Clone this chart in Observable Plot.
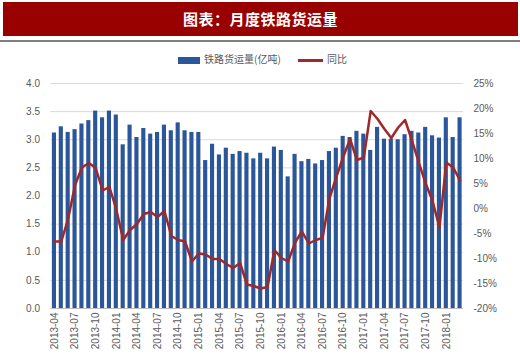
<!DOCTYPE html>
<html>
<head>
<meta charset="utf-8">
<script src="https://cdn.jsdelivr.net/npm/d3@7"></script>
<script src="https://cdn.jsdelivr.net/npm/@observablehq/plot@0.6"></script>
<style>
  html, body { margin: 0; padding: 0; background: #fff; }
  #wrap { position: relative; width: 520px; height: 354px; overflow: hidden; }
  #banner { position: absolute; left: 3px; top: 2px; width: 515px; height: 34px; background: #990000;
    color: #fff; font-family: "Noto Sans CJK SC", sans-serif; font-weight: bold; font-size: 15px;
    line-height: 34px; text-align: center; letter-spacing: 0.5px; }
  #rule { position: absolute; left: 0; top: 40px; width: 520px; height: 2px; background: #7f7f7f; }
  #legend { position: absolute; top: 53px; left: 0; width: 520px; height: 14px;
    font-family: "Noto Sans CJK SC", sans-serif; font-size: 10px; color: #595959; }
  .sw { position: absolute; }
  .lt { position: absolute; top: -1px; line-height: 14px; }
  #chart { position: absolute; left: 0; top: 70px; }
</style>
</head>
<body>
<div id="wrap">
  <div id="banner">图表：月度铁路货运量</div>
  <div id="rule"></div>
  <div id="legend">
    <div class="sw" style="left:178px;top:4px;width:22px;height:7px;background:#2b579a;"></div>
    <div class="lt" style="left:204px;">铁路货运量(亿吨)</div>
    <div class="sw" style="left:298px;top:6px;width:25px;height:3px;background:#a0282a;"></div>
    <div class="lt" style="left:327px;">同比</div>
  </div>
  <div id="chart"></div>
</div>
<script>
const months = ["2013-04","2013-05","2013-06","2013-07","2013-08","2013-09","2013-10","2013-11","2013-12",
  "2014-01","2014-02","2014-03","2014-04","2014-05","2014-06","2014-07","2014-08","2014-09","2014-10","2014-11","2014-12",
  "2015-01","2015-02","2015-03","2015-04","2015-05","2015-06","2015-07","2015-08","2015-09","2015-10","2015-11","2015-12",
  "2016-01","2016-02","2016-03","2016-04","2016-05","2016-06","2016-07","2016-08","2016-09","2016-10","2016-11","2016-12",
  "2017-01","2017-02","2017-03","2017-04","2017-05","2017-06","2017-07","2017-08","2017-09","2017-10","2017-11","2017-12",
  "2018-01","2018-02","2018-03"];

const freight = [3.12,3.23,3.13,3.18,3.28,3.34,3.51,3.39,3.51,3.44,
  2.91,3.26,3.04,3.20,3.10,3.13,3.26,3.16,3.30,3.16,
  3.13,3.13,2.63,2.92,2.73,2.85,2.74,2.79,2.76,2.66,
  2.76,2.66,2.87,2.81,2.34,2.74,2.61,2.65,2.57,2.63,
  2.79,2.85,3.06,3.04,3.15,3.10,2.81,3.22,3.01,3.01,
  3.00,3.09,3.15,3.12,3.22,3.07,3.03,3.39,3.04,3.39];

const yoy = [-6.6,-6.6,-2.0,4.7,8.2,9.1,8.1,3.6,4.3,-0.2,
  -6.3,-4.3,-3.1,-1.1,-0.7,-1.7,-0.5,-5.5,-6.3,-6.6,
  -10.6,-9.0,-9.2,-10.1,-10.1,-11.1,-11.9,-10.9,-15.2,-15.5,
  -16.0,-15.7,-8.3,-9.9,-10.6,-6.8,-4.6,-7.0,-6.3,-5.9,
  2.0,6.3,10.3,13.9,9.7,10.2,19.5,17.9,15.9,14.1,
  16.2,17.7,13.6,9.2,5.0,1.5,-3.8,9.2,8.2,5.6];

const xTickLabels = ["2013-04","2013-07","2013-10","2014-01","2014-04","2014-07","2014-10",
  "2015-01","2015-04","2015-07","2015-10","2016-01","2016-04","2016-07","2016-10",
  "2017-01","2017-04","2017-07","2017-10","2018-01"];
const leftTicks = [0,0.5,1,1.5,2,2.5,3,3.5,4];
const rightTicks = [-20,-15,-10,-5,0,5,10,15,20,25];

// map right-axis percent to left-axis units (both share the same vertical extent)
const toL = p => (p + 20) / 45 * 4;
const fromL = v => v / 4 * 45 - 20;

const rows = months.map((m, i) => ({month: m, freight: freight[i], yoy: yoy[i]}));

const chart = Plot.plot({
  width: 520,
  height: 284,
  marginTop: 13,
  marginBottom: 46,
  marginLeft: 50.5,
  marginRight: 57,
  style: {fontFamily: "Liberation Sans, Arial, sans-serif", fontSize: "10px", color: "#595959", background: "transparent"},
  x: {type: "band", domain: months, paddingInner: 0.4, paddingOuter: 0.2, axis: null},
  y: {domain: [0, 4], axis: null},
  marks: [
    Plot.ruleY(leftTicks.filter(d => d > 0), {stroke: "#d9d9d9", strokeWidth: 1}),
    Plot.barY(rows, {x: "month", y: "freight", fill: "#2b579a"}),
    Plot.ruleY([0], {stroke: "#bfbfbf", strokeWidth: 1}),
    Plot.line(rows, {x: "month", y: d => toL(d.yoy), stroke: "#a0282a", strokeWidth: 2.5, strokeLinejoin: "round"}),
    Plot.axisX({ticks: xTickLabels, tickRotate: -90, tickSize: 0, tickPadding: 4, label: null}),
    Plot.axisY({ticks: leftTicks, tickFormat: d => d.toFixed(1), tickSize: 0, tickPadding: 11, label: null}),
    Plot.axisY({anchor: "right", ticks: rightTicks.map(toL), tickFormat: v => Math.round(fromL(v)) + "%", tickSize: 0, tickPadding: 10, label: null})
  ]
});
document.getElementById("chart").appendChild(chart);
</script>
</body>
</html>
